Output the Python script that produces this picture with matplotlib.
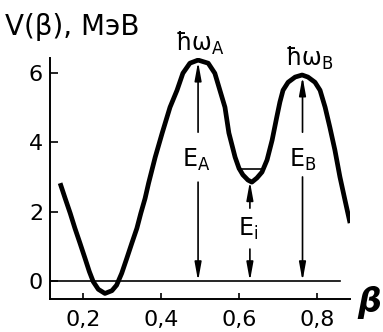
import matplotlib.pyplot as plt
import matplotlib.ticker as mticker

# potential energy curve (deformation beta, energy in MeV)
beta = [0.141, 0.154, 0.167, 0.179, 0.192, 0.205, 0.216, 0.226, 0.239, 0.256,
        0.274, 0.286, 0.299, 0.312, 0.325, 0.338, 0.348, 0.359, 0.368, 0.385,
        0.403, 0.423, 0.441, 0.456, 0.474, 0.495, 0.521, 0.538, 0.551, 0.564,
        0.574, 0.590, 0.600, 0.610, 0.623, 0.633, 0.646, 0.659, 0.672, 0.685,
        0.697, 0.705, 0.713, 0.726, 0.744, 0.762, 0.777, 0.795, 0.808, 0.821,
        0.833, 0.846, 0.859, 0.872, 0.885]
V = [2.82, 2.38, 1.95, 1.52, 1.09, 0.65, 0.27, -0.02, -0.24, -0.36,
     -0.28, -0.12, 0.22, 0.65, 1.09, 1.52, 1.95, 2.38, 2.82, 3.57,
     4.27, 5.01, 5.50, 5.99, 6.28, 6.37, 6.28, 5.99, 5.50, 5.01,
     4.27, 3.57, 3.25, 3.06, 2.91, 2.85, 2.97, 3.14, 3.49, 4.06,
     4.73, 5.16, 5.50, 5.73, 5.88, 5.94, 5.88, 5.73, 5.50, 5.01,
     4.44, 3.78, 3.00, 2.33, 1.67]

# barrier tops and bottom of the second well
beta_A, E_A = 0.495, 6.37
beta_i, E_i = 0.628, 2.87
beta_B, E_B = 0.763, 5.94
level_i = 3.23
level_span = (0.598, 0.662)

xticks = [0.2, 0.4, 0.6, 0.8]
yticks = [0, 2, 4, 6]

plt.rcParams['font.family'] = ['DejaVu Sans']
fig = plt.figure(figsize=(3.83, 3.32), dpi=100)
ax = fig.add_axes([0.1305, 0.0994, 0.7835, 0.7259])

ax.plot(beta, V, color='black', lw=3.4, solid_joinstyle='round', solid_capstyle='butt')
ax.plot([0.115, 0.859], [0, 0], color='black', lw=1.2)
ax.plot(level_span, [level_i, level_i], color='black', lw=1.2)


def split_arrow(x, top, lo, hi):
    # vertical double arrow broken around its label
    kw = dict(arrowstyle='-|>,head_length=1.1,head_width=0.2', color='black',
              lw=1.2, shrinkA=0, shrinkB=0)
    ax.annotate('', xy=(x, top), xytext=(x, hi), arrowprops=kw)
    ax.annotate('', xy=(x, 0), xytext=(x, lo), arrowprops=kw)


split_arrow(beta_A, E_A - 0.05, 2.85, 4.29)
split_arrow(beta_B, E_B - 0.05, 3.00, 4.29)
split_arrow(beta_i, E_i, 0.92, 2.10)

txt = dict(fontsize=17, ha='center', va='center')
ax.text(0.489, 3.49, 'E$_\\mathrm{A}$', **txt)
ax.text(0.764, 3.49, 'E$_\\mathrm{B}$', **txt)
ax.text(0.623, 1.50, 'E$_\\mathrm{i}$', **txt)
ax.text(0.500, 6.86, 'ħω$_\\mathrm{A}$', **txt)
ax.text(0.780, 6.43, 'ħω$_\\mathrm{B}$', **txt)

ax.set_xlim(0.115, 0.885)
ax.set_ylim(-0.52, 6.43)
ax.set_xticks(xticks)
ax.set_yticks(yticks)
ax.xaxis.set_major_formatter(mticker.FuncFormatter(lambda v, p: f'{v:.1f}'.replace('.', ',')))
ax.tick_params(axis='x', direction='in', length=4, width=1.2, pad=8, labelsize=16)
ax.tick_params(axis='y', direction='in', length=6, width=1.2, pad=5, labelsize=16)
for s in ['top', 'right']:
    ax.spines[s].set_visible(False)
for s in ['left', 'bottom']:
    ax.spines[s].set_linewidth(1.4)
ax.patch.set_alpha(0)

fig.text(0.013, 0.895, 'V(β), МэВ', fontsize=20, ha='left', va='baseline')
fig.text(0.932, 0.09, 'β', fontsize=24, style='italic', fontweight='bold',
         ha='left', va='center')

fig.savefig('out.png', dpi=100, facecolor='white')
